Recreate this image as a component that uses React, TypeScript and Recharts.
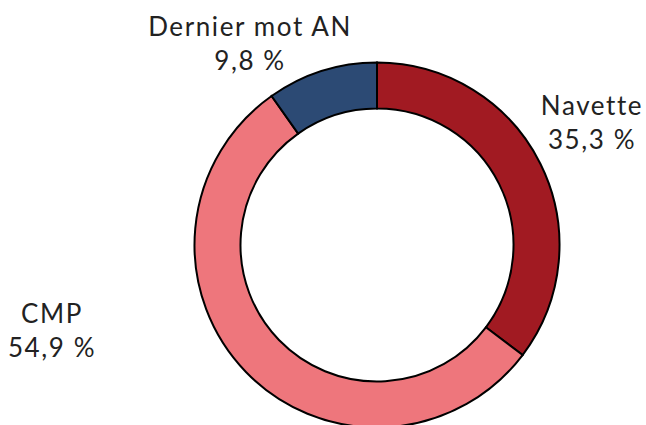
import { PieChart, Pie, Cell } from "recharts";

const categories = ["Navette", "CMP", "Dernier mot AN"];
const shares = [35.3, 54.9, 9.8];
const colors = ["#a11a22", "#ee767c", "#2c4a74"];
// label anchor offsets from the pie centre (name line baseline)
const labelOffsets = [
  { dx: 215, dy: -130 },
  { dx: -325, dy: 78 },
  { dx: -127, dy: -209 },
];

const data = categories.map((name, i) => ({ name, value: shares[i] }));

const fmt = (v: number) => v.toFixed(1).replace(".", ",") + " %";

const renderLabel = (props: any) => {
  const { cx, cy, index, name, value } = props;
  const off = labelOffsets[index];
  const x = cx + off.dx;
  const y = cy + off.dy;
  return (
    <text
      x={x}
      y={y}
      textAnchor="middle"
      fontFamily="Lato, sans-serif"
      fontSize={26}
      letterSpacing={1.6}
      fill="#222"
    >
      <tspan x={x} y={y}>
        {name}
      </tspan>
      <tspan x={x} y={y + 34}>
        {fmt(value)}
      </tspan>
    </text>
  );
};

export default function App() {
  return (
    <div style={{ position: "absolute", left: 0, top: 0, width: 646, height: 425, background: "#fff" }}>
      <PieChart width={646} height={425}>
        <Pie
          data={data}
          dataKey="value"
          nameKey="name"
          cx={372}
          cy={240}
          innerRadius={136.5}
          outerRadius={182.5}
          startAngle={90}
          endAngle={-270}
          stroke="#000"
          strokeWidth={2}
          label={renderLabel}
          labelLine={false}
          isAnimationActive={false}
        >
          {data.map((d, i) => (
            <Cell key={d.name} fill={colors[i]} />
          ))}
        </Pie>
      </PieChart>
    </div>
  );
}
